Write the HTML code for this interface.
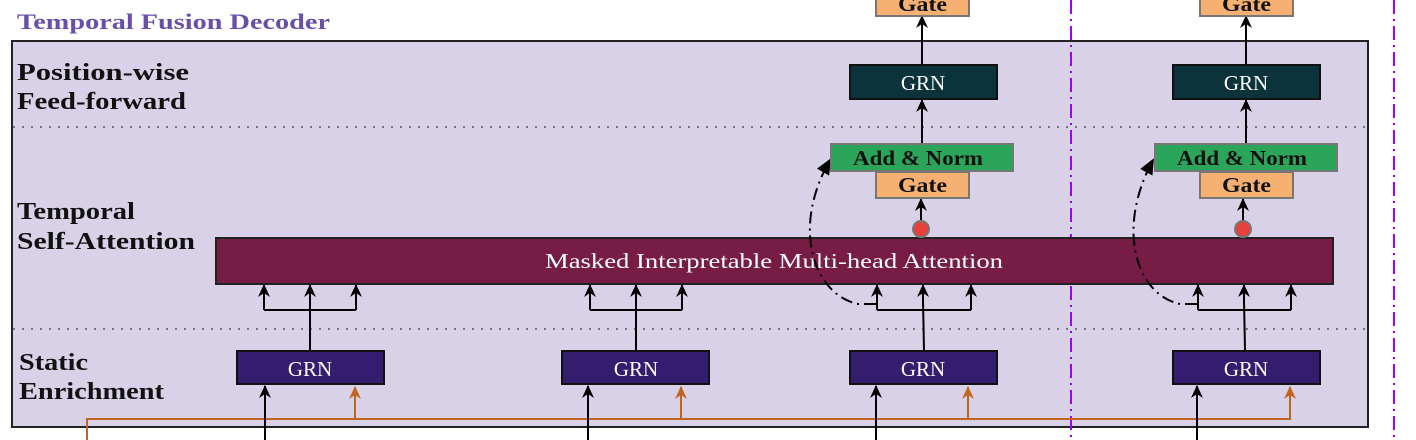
<!DOCTYPE html>
<html><head><meta charset="utf-8"><style>
html,body{margin:0;padding:0;background:#fff;width:1416px;height:440px;overflow:hidden}
svg{display:block}
text{font-family:"Liberation Serif",serif}
</style></head><body>
<svg width="1416" height="440" viewBox="0 0 1416 440" xmlns="http://www.w3.org/2000/svg">
<defs>
<marker id="a" markerWidth="14" markerHeight="12" refX="12" refY="6" orient="auto" markerUnits="userSpaceOnUse" viewBox="0 0 14 12"><path d="M0,0 L13,6 L0,12 L4,6 Z" fill="#000"/></marker>
<marker id="o" markerWidth="14" markerHeight="12" refX="12" refY="6" orient="auto" markerUnits="userSpaceOnUse" viewBox="0 0 14 12"><path d="M0,0 L13,6 L0,12 L4,6 Z" fill="#c0651f"/></marker>
<marker id="c" markerWidth="16" markerHeight="14" refX="14" refY="7" orient="auto" markerUnits="userSpaceOnUse" viewBox="0 0 16 14"><path d="M0,0 L16,7 L0,14 Z" fill="#000"/></marker>
</defs>
<text x="17" y="29" font-size="22" font-weight="bold" fill="#6a4fa8" textLength="313" lengthAdjust="spacingAndGlyphs">Temporal Fusion Decoder</text>
<rect x="12" y="41" width="1356" height="386" fill="#d9d1e7" stroke="#222" stroke-width="2"/>
<line x1="13" y1="127" x2="1367" y2="127" stroke="#777" stroke-width="2" stroke-dasharray="2,7"/>
<line x1="13" y1="329" x2="1367" y2="329" stroke="#777" stroke-width="2" stroke-dasharray="2,7"/>
<g font-size="24" font-weight="bold" fill="#111">
<text x="17" y="80" textLength="172" lengthAdjust="spacingAndGlyphs">Position-wise</text>
<text x="17" y="109" textLength="169" lengthAdjust="spacingAndGlyphs">Feed-forward</text>
<text x="17" y="219" textLength="118" lengthAdjust="spacingAndGlyphs">Temporal</text>
<text x="17" y="249" textLength="178" lengthAdjust="spacingAndGlyphs">Self-Attention</text>
<text x="19" y="370" textLength="69" lengthAdjust="spacingAndGlyphs">Static</text>
<text x="19" y="399" textLength="145" lengthAdjust="spacingAndGlyphs">Enrichment</text>
</g>
<g stroke="#a100ff" stroke-width="2" stroke-dasharray="14,5,2,5">
<line x1="1071" y1="0" x2="1071" y2="440"/><line x1="1394" y1="0" x2="1394" y2="440"/>
</g>
<path d="M87,440 L87,419 L1290,419 L1290,388" fill="none" stroke="#c0651f" stroke-width="2"/>
<g stroke="#c0651f" stroke-width="2" fill="none">
<line x1="355" y1="419" x2="355" y2="387" marker-end="url(#o)"/>
<line x1="681" y1="419" x2="681" y2="387" marker-end="url(#o)"/>
<line x1="968" y1="419" x2="968" y2="387" marker-end="url(#o)"/>
<line x1="1290" y1="419" x2="1290" y2="387" marker-end="url(#o)"/>
</g>
<rect x="216" y="238" width="1117" height="46" fill="#761c45" stroke="#222" stroke-width="2"/>
<text x="545" y="268" font-size="21" fill="#fff" textLength="458" lengthAdjust="spacingAndGlyphs">Masked Interpretable Multi-head Attention</text>
<g stroke="#000" stroke-width="2" fill="none">
<line x1="265" y1="440" x2="265" y2="386" marker-end="url(#a)"/>
<line x1="588" y1="440" x2="588" y2="386" marker-end="url(#a)"/>
<line x1="876" y1="440" x2="876" y2="386" marker-end="url(#a)"/>
<line x1="1197" y1="440" x2="1197" y2="386" marker-end="url(#a)"/>
<path d="M310,350 L310,300 M264,310 L356,310 M264,310 L264,300 M356,310 L356,300"/>
<line x1="310" y1="305" x2="310" y2="285" marker-end="url(#a)"/>
<line x1="264" y1="305" x2="264" y2="285" marker-end="url(#a)"/>
<line x1="356" y1="305" x2="356" y2="285" marker-end="url(#a)"/>
<path d="M636,350 L636,300 M590,310 L682,310 M590,310 L590,300 M682,310 L682,300"/>
<line x1="636" y1="305" x2="636" y2="285" marker-end="url(#a)"/>
<line x1="590" y1="305" x2="590" y2="285" marker-end="url(#a)"/>
<line x1="682" y1="305" x2="682" y2="285" marker-end="url(#a)"/>
<path d="M924,350 L923,300 M877,310 L971,310 M877,310 L877,300 M971,310 L971,300"/>
<line x1="923" y1="305" x2="923" y2="285" marker-end="url(#a)"/>
<line x1="877" y1="305" x2="877" y2="285" marker-end="url(#a)"/>
<line x1="971" y1="305" x2="971" y2="285" marker-end="url(#a)"/>
<path d="M1245,350 L1244,300 M1198,310 L1291,310 M1198,310 L1198,300 M1291,310 L1291,300"/>
<line x1="1244" y1="305" x2="1244" y2="285" marker-end="url(#a)"/>
<line x1="1198" y1="305" x2="1198" y2="285" marker-end="url(#a)"/>
<line x1="1291" y1="305" x2="1291" y2="285" marker-end="url(#a)"/>
<line x1="921" y1="222" x2="921" y2="199" marker-end="url(#a)"/>
<line x1="922" y1="144" x2="922" y2="100" marker-end="url(#a)"/>
<line x1="922" y1="65" x2="922" y2="16" marker-end="url(#a)"/>
<line x1="1243" y1="222" x2="1243" y2="199" marker-end="url(#a)"/>
<line x1="1246" y1="144" x2="1246" y2="100" marker-end="url(#a)"/>
<line x1="1246" y1="65" x2="1246" y2="16" marker-end="url(#a)"/>
<path d="M876,304 L858,304 C815,295 790,230 830,160" stroke-dasharray="12,5,2,5" marker-end="url(#c)"/>
<path d="M1197,304 L1180,304 C1137,295 1115,230 1153,160" stroke-dasharray="12,5,2,5" marker-end="url(#c)"/>
</g>
<g stroke="#111" stroke-width="2">
<rect x="237" y="351" width="147" height="33" fill="#341c6e"/>
<rect x="562" y="351" width="147" height="33" fill="#341c6e"/>
<rect x="850" y="351" width="147" height="33" fill="#341c6e"/>
<rect x="1173" y="351" width="147" height="33" fill="#341c6e"/>
<rect x="850" y="65" width="147" height="34" fill="#0c323b"/>
<rect x="1173" y="65" width="147" height="34" fill="#0c323b"/>
</g>
<g font-size="21" fill="#fff" text-anchor="middle">
<text x="310" y="376">GRN</text><text x="636" y="376">GRN</text><text x="923" y="376">GRN</text><text x="1246" y="376">GRN</text>
<text x="923" y="90">GRN</text><text x="1246" y="90">GRN</text>
</g>
<g stroke="#777" stroke-width="2">
<rect x="831" y="144" width="182" height="27" fill="#2ba55a"/>
<rect x="876" y="172" width="93" height="26" fill="#f6b072"/>
<rect x="876" y="-10" width="93" height="26" fill="#f6b072"/>
<rect x="1155" y="144" width="182" height="27" fill="#2ba55a"/>
<rect x="1200" y="172" width="93" height="26" fill="#f6b072"/>
<rect x="1200" y="-10" width="93" height="26" fill="#f6b072"/>
<circle cx="921" cy="229" r="8" fill="#e8403a"/>
<circle cx="1243" cy="229" r="8" fill="#e8403a"/>
</g>
<g font-size="21" font-weight="bold" fill="#111">
<text x="853" y="165" textLength="130" lengthAdjust="spacingAndGlyphs">Add &amp; Norm</text>
<text x="898" y="192" textLength="49" lengthAdjust="spacingAndGlyphs">Gate</text>
<text x="898" y="11" textLength="49" lengthAdjust="spacingAndGlyphs">Gate</text>
<text x="1177" y="165" textLength="130" lengthAdjust="spacingAndGlyphs">Add &amp; Norm</text>
<text x="1222" y="192" textLength="49" lengthAdjust="spacingAndGlyphs">Gate</text>
<text x="1222" y="11" textLength="49" lengthAdjust="spacingAndGlyphs">Gate</text>
</g>
</svg>
</body></html>
